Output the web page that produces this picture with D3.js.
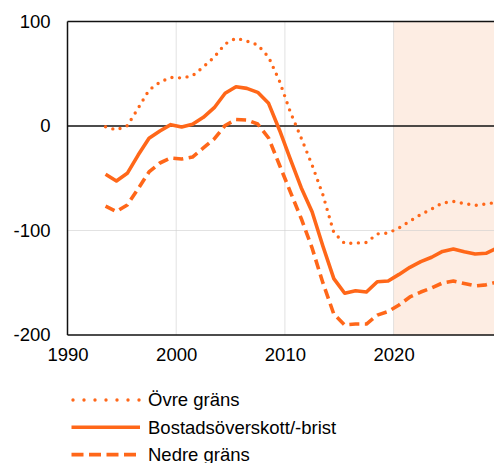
<!DOCTYPE html>
<html>
<head>
<meta charset="utf-8">
<script src="https://cdn.jsdelivr.net/npm/d3@7"></script>
<style>
  body { margin: 0; background: #fff; }
  text { font-family: "Liberation Sans", Arial, sans-serif; fill: #000; }
</style>
</head>
<body>
<div id="chart"></div>
<script>
// data, one point per year (plotted mid-year)
var years = d3.range(1993, 2030);
var ovre = [-0.7, -3.8, 0.3, 17, 34.4, 42, 46.4, 46, 48, 56.5, 66, 78.5, 84,
            81.3, 77.5, 66, 43, 13.4, -11.5, -37.3, -66, -102, -112.4, -112, -111.5,
            -103.3, -102.4, -97.6, -91, -84.7, -79.4, -73.7, -72.2, -74.2, -76, -74.6, -73];
var mitt = [-46.2, -52.6, -45.3, -27.8, -11.8, -4.8, 1.3, -1, 1.6, 8.3, 17.5, 31.3, 37.6,
            36, 32.2, 21.7, -3.8, -31.6, -59, -82, -115, -146, -160.1, -157.6, -158.9,
            -149, -148.3, -142, -135.2, -129.8, -125.6, -120, -117.7, -120.3, -122.5, -121.8, -117];
var nedre = [-76.6, -81.8, -75.6, -60, -44, -35.4, -30.6, -31.6, -29.7, -21, -12.4, 0.5, 6.2,
             5.7, 1.9, -11.5, -37.3, -63, -88.5, -116.7, -150.2, -180, -190.4, -189.5, -189.5,
             -181, -177.5, -171.3, -163.6, -158.9, -155, -150.2, -148.3, -150.7, -153, -152, -149.3];
var prognosStart = 2020;
var xTicks = [1990, 2000, 2010, 2020];
var yTicks = [-200, -100, 0, 100];
var legendNames = ["Övre gräns", "Bostadsöverskott/-brist", "Nedre gräns"];

var width = 494, height = 463;
var orange = "#ff6719";

var svg = d3.select("#chart").append("svg")
    .attr("width", width)
    .attr("height", height);

var x = d3.scaleLinear().domain([1990, 2030]).range([67.5, 502.3]);
var y = d3.scaleLinear().domain([-200, 100]).range([335, 21.5]);

// prognosis shading
svg.append("rect")
    .attr("x", x(prognosStart))
    .attr("y", y(100))
    .attr("width", x(2030) - x(prognosStart))
    .attr("height", y(-200) - y(100))
    .attr("fill", "#fdede3");

// gridlines
svg.append("g").selectAll("line")
    .data(xTicks.filter(function(d){ return d > 1990; }))
    .join("line")
    .attr("x1", function(d){ return x(d); })
    .attr("x2", function(d){ return x(d); })
    .attr("y1", y(100)).attr("y2", y(-200))
    .attr("stroke", "#cfcfcf").attr("stroke-opacity", 0.6).attr("stroke-width", 1);

svg.append("g").selectAll("line")
    .data([-100])
    .join("line")
    .attr("x1", x(1990)).attr("x2", width)
    .attr("y1", function(d){ return y(d); })
    .attr("y2", function(d){ return y(d); })
    .attr("stroke", "#cfcfcf").attr("stroke-opacity", 0.6).attr("stroke-width", 1);

// frame lines
svg.append("line").attr("x1", x(1990)).attr("x2", width)
    .attr("y1", y(100)).attr("y2", y(100)).attr("stroke", "#111").attr("stroke-width", 1.5);
svg.append("line").attr("x1", x(1990)).attr("x2", width)
    .attr("y1", y(0)).attr("y2", y(0)).attr("stroke", "#111").attr("stroke-width", 1.5);
svg.append("line").attr("x1", x(1990)).attr("x2", width)
    .attr("y1", y(-200)).attr("y2", y(-200)).attr("stroke", "#111").attr("stroke-width", 1.5);
svg.append("line").attr("x1", x(1990)).attr("x2", x(1990))
    .attr("y1", y(100)).attr("y2", y(-200)).attr("stroke", "#111").attr("stroke-width", 1.5);

// axes labels (plain hyphen as minus, like the original)
var yAxis = d3.axisLeft(y).tickValues(yTicks).tickSize(0).tickPadding(17)
    .tickFormat(function(d){ return String(d); });
var yg = svg.append("g").attr("transform", "translate(" + x(1990) + ",0)").call(yAxis);
yg.select(".domain").remove();
yg.selectAll("text").style("font-size", "18.5px").attr("font-family", null);

var xAxis = d3.axisBottom(x).tickValues(xTicks).tickFormat(function(d){ return String(d); })
    .tickSize(0).tickPadding(13);
var xg = svg.append("g").attr("transform", "translate(0," + y(-200) + ")").call(xAxis);
xg.select(".domain").remove();
xg.selectAll("text").style("font-size", "18.5px").attr("font-family", null);

// series
var series = [
  { values: ovre, dash: "0,7.6", width: 3.4, cap: "round" },
  { values: mitt, dash: null, width: 3.6, cap: "butt" },
  { values: nedre, dash: "10,5.5", width: 3.6, cap: "butt" }
];

var line = d3.line()
    .x(function(d, i){ return x(years[i] + 0.5); })
    .y(function(d){ return y(d); });

series.forEach(function(s){
  svg.append("path")
     .datum(s.values)
     .attr("d", line)
     .attr("fill", "none")
     .attr("stroke", orange)
     .attr("stroke-width", s.width)
     .attr("stroke-linecap", s.cap)
     .attr("stroke-linejoin", "round")
     .attr("stroke-dasharray", s.dash);
});

// legend
var legendDash = ["0,11", null, "12,5.5"];
var legend = svg.append("g");
legendNames.forEach(function(name, i){
  var ly = 400 + i * 27.3;
  legend.append("line")
    .attr("x1", i === 0 ? 73 : 71.5).attr("x2", 140)
    .attr("y1", ly).attr("y2", ly)
    .attr("stroke", orange)
    .attr("stroke-width", series[i].width)
    .attr("stroke-linecap", series[i].cap)
    .attr("stroke-dasharray", legendDash[i]);
  legend.append("text")
    .attr("x", 148).attr("y", ly)
    .attr("dy", "0.35em")
    .style("font-size", "18.5px")
    .text(name);
});
</script>
</body>
</html>
